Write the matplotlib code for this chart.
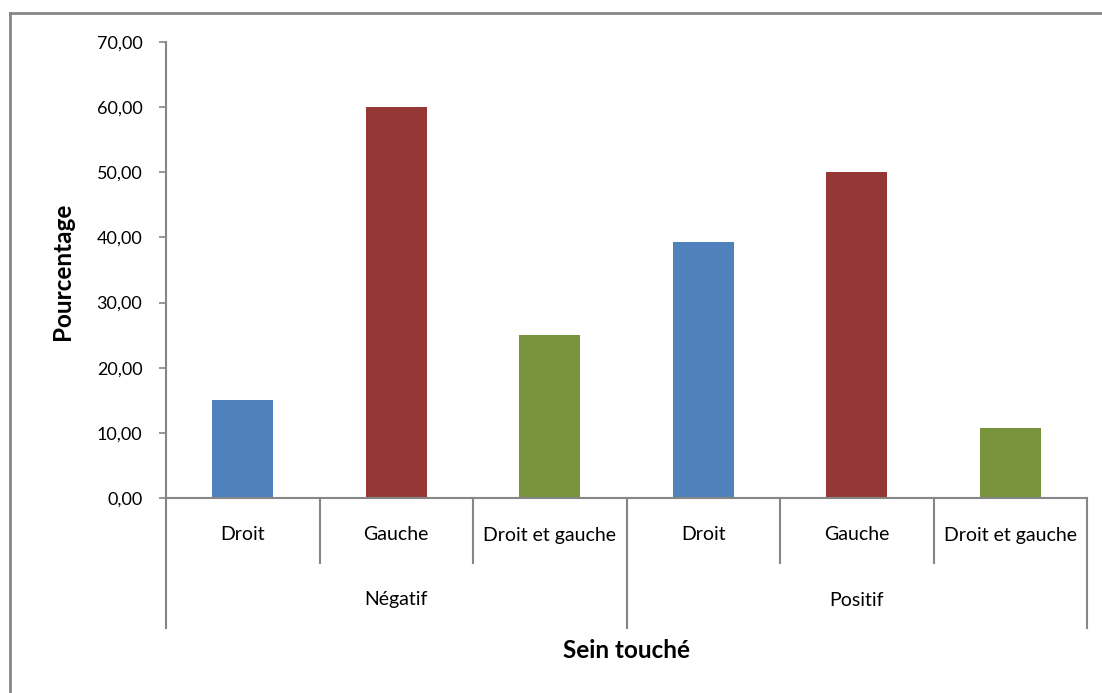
import matplotlib
matplotlib.use("Agg")
import matplotlib.pyplot as plt
from matplotlib.lines import Line2D

# Data: percentage per side affected, grouped by status
groups = ["Négatif", "Positif"]
sides = ["Droit", "Gauche", "Droit et gauche"]
negatif = [15.00, 60.00, 25.00]
positif = [39.29, 50.00, 10.71]
side_colors = ["#4F81BD", "#953735", "#77933C"]

y_ticks = [0, 10, 20, 30, 40, 50, 60, 70]

plt.rcParams["font.family"] = ["Lato", "DejaVu Sans"]
GRAY = "#868686"

fig = plt.figure(figsize=(11.02, 6.93), dpi=100)
W, H = 1102, 693
ax = fig.add_axes([166 / W, 1 - 498 / H, (1087 - 166) / W, (498 - 42) / H])

values = negatif + positif
labels = sides * len(groups)
colors = side_colors * len(groups)
xs = [i + 0.5 for i in range(len(values))]
ax.bar(xs, values, width=0.4, color=colors, zorder=2)

ax.set_xlim(0, len(values))
ax.set_ylim(0, 70)
ax.set_yticks(y_ticks)
ax.set_yticklabels([f"{v:.2f}".replace(".", ",") for v in y_ticks], fontsize=13)
ax.tick_params(axis="y", length=5, width=1.2, color=GRAY, pad=12)
ax.set_xticks([])

for s in ["top", "right"]:
    ax.spines[s].set_visible(False)
for s in ["left", "bottom"]:
    ax.spines[s].set_color(GRAY)
    ax.spines[s].set_linewidth(1.5)

# Two-level category axis: side labels, then group labels
tr = ax.get_xaxis_transform()
px = 1 / 456  # one pixel in axes-y units
for i in range(1, len(values)):
    if i % len(sides) != 0:
        ax.add_line(Line2D([i, i], [0, -65 * px], transform=tr, color=GRAY,
                           lw=1.5, clip_on=False))
for i in range(0, len(values) + 1, len(sides)):
    ax.add_line(Line2D([i, i], [0, -130 * px], transform=tr, color=GRAY,
                       lw=1.5, clip_on=False))
for x, lab in zip(xs, labels):
    ax.text(x, -37 * px, lab, transform=tr, ha="center", va="center", fontsize=14)
for g, name in enumerate(groups):
    ax.text(g * len(sides) + len(sides) / 2, -102 * px, name, transform=tr,
            ha="center", va="center", fontsize=14)

ax.text(len(values) / 2, -152 * px, "Sein touché", transform=tr, ha="center",
        va="center", fontsize=17.5, fontweight="bold")
fig.text(62 / W, 1 - 271 / H, "Pourcentage", rotation=90, ha="center",
         va="center", fontsize=17.5, fontweight="bold")

# chart frame (top and left edges visible)
fig.add_artist(Line2D([10 / W, 1.01], [1 - 13 / H, 1 - 13 / H],
                      transform=fig.transFigure, color=GRAY, lw=2))
fig.add_artist(Line2D([10 / W, 10 / W], [1 - 13 / H, -0.01],
                      transform=fig.transFigure, color=GRAY, lw=2))

fig.savefig("out.png", dpi=100)
